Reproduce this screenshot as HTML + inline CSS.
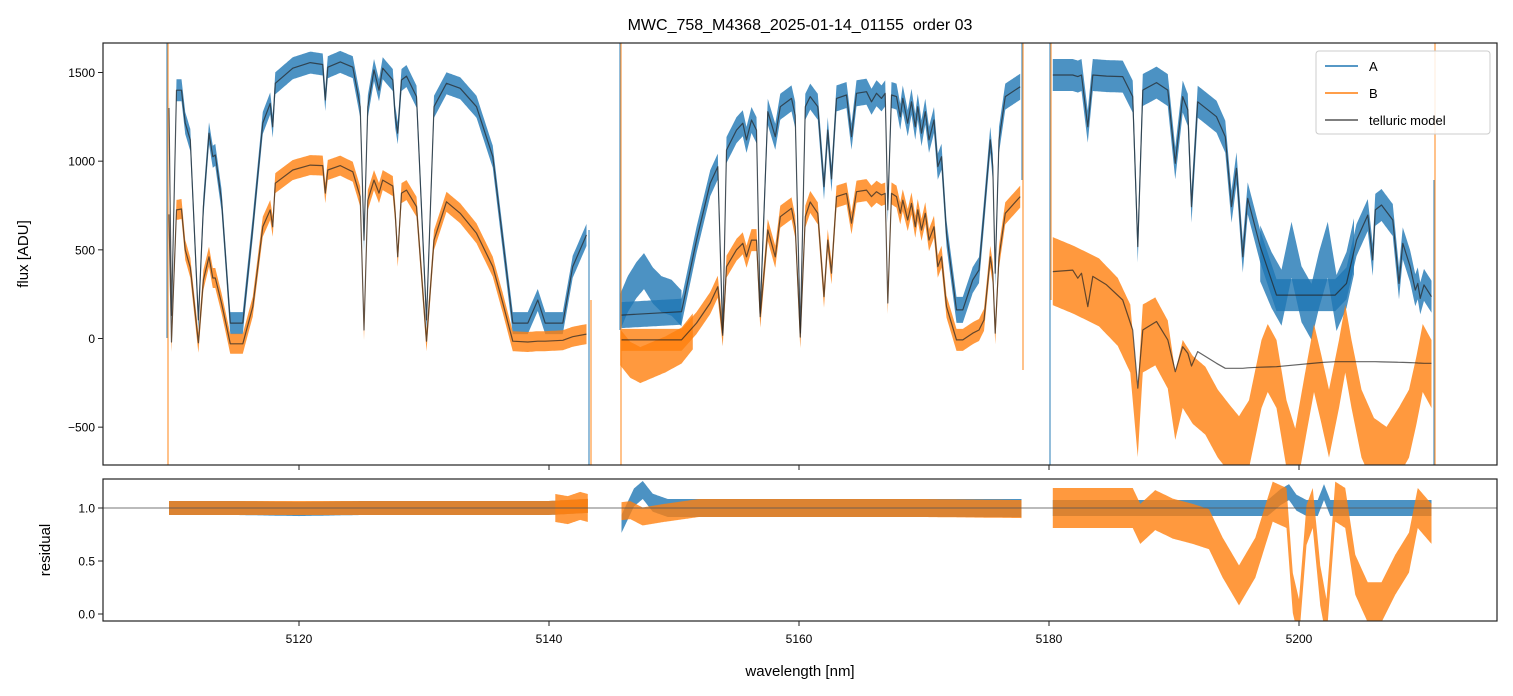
<!DOCTYPE html>
<html><head><meta charset="utf-8"><style>
body{margin:0;background:#fff;}
svg{display:block;font-family:"Liberation Sans","DejaVu Sans",sans-serif;}
</style></head><body>
<svg id="fig" width="1513" height="696" viewBox="0 0 1513 696" xmlns="http://www.w3.org/2000/svg">
<defs>
<clipPath id="cTop"><rect x="103" y="43" width="1394" height="422"/></clipPath>
<clipPath id="cBot"><rect x="103" y="479" width="1394" height="142"/></clipPath>
</defs>
<rect width="1513" height="696" fill="#fff"/>
<text x="800" y="30" text-anchor="middle" font-size="16" fill="#000" style="white-space:pre">MWC_758_M4368_2025-01-14_01155  order 03</text>
<g id="gtop" clip-path="url(#cTop)"></g>
<g id="gbot" clip-path="url(#cBot)"></g>
<g id="gaxes"></g>
<text x="0" y="0" transform="translate(28,254) rotate(-90)" text-anchor="middle" font-size="15">flux [ADU]</text>
<text x="0" y="0" transform="translate(50,550) rotate(-90)" text-anchor="middle" font-size="15">residual</text>
<text x="800" y="676" text-anchor="middle" font-size="15">wavelength [nm]</text>
<g>
<rect x="1316" y="51" width="174" height="83" rx="3" fill="#fff" fill-opacity="0.85" stroke="#ccc"/>
<line x1="1325" y1="66" x2="1358" y2="66" stroke="#1f77b4" stroke-width="1.5"/>
<text x="1369" y="71" font-size="13">A</text>
<line x1="1325" y1="93" x2="1358" y2="93" stroke="#ff7f0e" stroke-width="1.5"/>
<text x="1369" y="98" font-size="13">B</text>
<line x1="1325" y1="120" x2="1358" y2="120" stroke="#555" stroke-width="1.5"/>
<text x="1369" y="125" font-size="13">telluric model</text>
</g>
</svg>
<script>
const wl1=[5109.6,5109.8,5110.2,5110.6,5110.9,5111.3,5111.95,5112.35,5112.8,5113.1,5113.3,5113.8,5114.5,5115.5,5116.3,5117.1,5117.7,5117.9,5118.1,5119.5,5120.9,5121.9,5122.1,5122.3,5123.3,5124.3,5124.9,5125.2,5125.5,5126.0,5126.4,5126.7,5127.5,5127.7,5127.9,5128.2,5128.6,5129.4,5130.2,5130.8,5131.8,5132.9,5134.2,5135.5,5136.3,5137.1,5138.3,5139.1,5139.7,5141.1,5141.9,5143.0];
const modelA1=[1300,130,1400,1400,1215,1120,105,743,1158,1025,1035,781,87,87,630,1215,1326,1194,1439,1524,1556,1545,1345,1530,1560,1530,1307,555,1307,1514,1400,1524,1458,1250,1158,1458,1480,1364,105,1307,1439,1411,1307,1025,555,87,87,217,87,87,405,584];
const modelB1=[700,-20,725,730,500,400,-24,330,461,341,341,200,-30,-30,180,630,725,630,876,950,978,975,820,950,975,940,800,48,780,893,820,893,860,706,461,820,837,743,-15,555,771,706,593,405,200,-15,-20,-15,-15,-10,10,25];
const wl2=[5145.8,5150.6,5151.8,5152.9,5153.5,5153.9,5154.2,5155.0,5155.5,5155.8,5156.2,5156.6,5156.9,5157.5,5158.1,5158.5,5159.4,5159.7,5160.1,5160.5,5160.9,5161.5,5162.0,5162.3,5162.6,5163.0,5163.8,5164.2,5164.6,5165.4,5165.8,5166.2,5166.6,5166.9,5167.1,5167.4,5167.8,5168.1,5168.3,5168.7,5169.0,5169.3,5169.5,5169.8,5170.1,5170.4,5170.8,5171.1,5171.4,5171.8,5172.6,5173.1,5173.9,5174.4,5174.8,5175.3,5175.5,5175.7,5176.0,5176.5,5177.7];
const modelA2=[132,151,555,876,969,31,1063,1175,1214,1120,1232,1175,143,1279,1138,1307,1354,1260,31,1307,1364,1307,856,1175,900,1354,1373,1138,1383,1392,1335,1383,1354,1383,725,1373,1364,1250,1354,1214,1335,1194,1307,1158,1279,1120,1232,969,1025,593,161,161,330,386,706,1120,969,368,1120,1364,1420];
const modelB2=[-8,-8,87,200,292,18,405,500,537,461,555,555,123,612,461,687,734,630,8,687,770,706,236,555,368,800,818,650,828,837,800,828,809,818,200,818,800,706,780,668,762,630,725,612,706,555,630,405,461,180,-8,-8,30,48,105,461,368,30,461,706,800];
const obsA2wl=[5145.7,5146.3,5147.0,5147.6,5148.3,5149.0,5149.8,5150.6];
const obsA2=[150,250,330,380,300,250,230,170];
const obsB2wl=[5145.7,5146.5,5147.3,5148.3,5149.3,5150.6,5151.5];
const obsB2=[-50,-120,-150,-120,-90,-40,40];
const wl3=[5180.3,5181.9,5182.3,5182.6,5183.1,5183.5,5184.6,5185.9,5186.7,5187.1,5187.5,5188.6,5189.5,5190.1,5190.7,5191.1,5191.4,5191.9,5193.4,5194.1,5194.6,5195.0,5195.5,5195.9,5196.9,5198.2,5201.9,5202.9,5203.8,5204.6,5205.5,5205.9,5206.1,5206.6,5207.5,5208.0,5208.3,5208.9,5209.3,5209.5,5209.7,5210.0,5210.6];
const modelA3=[1486,1486,1477,1486,1194,1486,1480,1477,1364,518,1401,1443,1401,988,1364,1289,743,1335,1251,1138,743,960,461,790,518,245,245,245,311,555,696,443,725,753,668,311,537,405,273,311,226,302,236];
const modelB3=[377,386,340,368,180,350,303,217,48,-280,48,96,-8,-187,-46,-83,-155,-74,-140,-168,-168,-168,-168,-165,-162,-159,-135,-131,-131,-131,-131,-131,-131,-132,-133,-134,-135,-136,-137,-138,-139,-140,-140];
const obsA3wl=[5196.9,5197.8,5198.6,5199.4,5200.2,5201,5201.6,5202.3,5203,5203.8,5204.4];
const obsA3=[480,330,230,500,250,150,330,500,200,330,520];
const obsB3wl=[5180.3,5182,5184,5185.5,5186.5,5187.1,5187.5,5188.5,5189.5,5190.1,5190.7,5191.5,5192.5,5193.5,5194.5,5195.2,5196,5197,5197.5,5198.2,5199,5199.7,5200.5,5201.2,5201.8,5202.4,5203.2,5203.7,5204.2,5205,5206,5207,5208,5208.8,5209.4,5209.9,5210.6];
const obsB3=[380,330,260,150,0,-477,0,40,-90,-380,-200,-290,-350,-480,-570,-630,-540,-200,-110,-200,-540,-700,-380,-110,-290,-480,-200,0,-200,-480,-640,-690,-580,-480,-290,-110,-200];
const resA1wl=[5109.6,5112,5115,5120,5125,5130,5135,5140,5143.1];
const resA1=[1.0,1.0,1.0,0.99,1.0,1.0,1.0,1.0,1.02];
const resB1wl=[5109.6,5115,5120,5125,5130,5135,5140,5143.1];
const resB1=[1.0,1.0,1.0,1.0,1.0,1.0,1.0,1.02];
const resA2wl=[5145.8,5146.2,5146.8,5147.5,5148.3,5149.5,5152,5160,5170,5177.8];
const resA2=[0.85,0.95,1.1,1.17,1.05,1.0,1.0,1.0,1.0,1.0];
const resB2wl=[5145.8,5146.5,5147.5,5149,5152,5160,5170,5177.8];
const resB2=[0.97,0.98,0.92,0.95,1.0,1.0,1.0,0.99];
const resA3wl=[5180.3,5197.5,5198.5,5199.2,5199.8,5200.6,5201.5,5202.0,5202.5,5210.6];
const resA3=[1.0,1.0,1.1,1.15,1.05,1.0,1.0,1.15,1.0,1.0];
const resB3wl=[5180.3,5186.7,5187.3,5188.5,5189.9,5191.5,5192.8,5193.9,5195.2,5196.5,5197.9,5199.0,5199.5,5200.0,5200.6,5201.1,5201.7,5202.2,5202.9,5203.7,5204.5,5205.5,5206.6,5207.7,5208.8,5209.5,5210.6];
const resB3=[1.0,1.0,0.85,0.98,0.9,0.85,0.8,0.53,0.27,0.53,1.06,1.0,0.2,-0.05,0.84,1.0,0.27,-0.05,1.06,1.0,0.37,0.11,0.11,0.37,0.58,1.0,0.85];
const xTicks=[5120,5140,5160,5180,5200];
const yTicks=[-500,0,500,1000,1500];
const rTicks=[0.0,0.5,1.0];
const rTickLabels=["0.0","0.5","1.0"];
{
const X=w=>299+(w-5120)*12.5;
const Y=v=>338.5-v*0.17733;
const R=v=>508-(v-1)*106;
const NS="http://www.w3.org/2000/svg";
const gTop=document.getElementById('gtop'),gBot=document.getElementById('gbot'),gAx=document.getElementById('gaxes');
function mk(tag,attrs,parent){const e=document.createElementNS(NS,tag);for(const k in attrs)e.setAttribute(k,attrs[k]);parent.appendChild(e);return e;}
function line(xs,ys,sc,col,w,op,parent,name){
  const pts=xs.map((x,i)=>X(x).toFixed(1)+','+sc(ys[i]).toFixed(1)).join(' ');
  const p=mk('polyline',{points:pts,fill:'none',stroke:col,'stroke-width':w,'stroke-opacity':op,'stroke-linejoin':'round'},parent);
  
  
  return p;
}
function band(xs,ys,sc,h,col,op,parent,name){
  const px=xs.map(X),py=ys.map(sc);
  const sx=[];
  for(let x=Math.ceil(px[0]);x<px[px.length-1];x+=1)sx.push(x);
  px.forEach(x=>sx.push(x));
  sx.sort((a,b)=>a-b);
  const up=[],dn=[];
  let j=0;
  sx.forEach(x=>{
    while(j<px.length-2&&px[j+1]<x)j++;
    const t=(px[j+1]===px[j])?0:Math.max(0,Math.min(1,(x-px[j])/(px[j+1]-px[j])));
    const y=py[j]+(py[j+1]-py[j])*t;
    up.push(x.toFixed(1)+','+(y-h).toFixed(1));
    dn.push(x.toFixed(1)+','+(y+h).toFixed(1));
  });
  const p=mk('polygon',{points:up.concat(dn.reverse()).join(' '),fill:col,'fill-opacity':op},parent);
  
  
  return p;
}
const BL='#1f77b4',OR='#ff7f0e';
band(wl1,modelA1,Y,11,BL,0.8,gTop,'series-a-chip1');
band(wl2,modelA2,Y,13,BL,0.8,gTop,'series-a-chip2');
band(obsA2wl,obsA2,Y,18,BL,0.8,gTop,'series-a-chip2-edge');
band(wl3,modelA3,Y,16,BL,0.8,gTop,'series-a-chip3');
band(obsA3wl,obsA3,Y,28,BL,0.8,gTop,'series-a-chip3-excess');
band(wl1,modelB1,Y,10,OR,0.8,gTop,'series-b-chip1');
band(wl2,modelB2,Y,11,OR,0.8,gTop,'series-b-chip2');
band(obsB2wl,obsB2,Y,18,OR,0.8,gTop,'series-b-chip2-edge');
band(obsB3wl,obsB3,Y,34,OR,0.8,gTop,'series-b-chip3');
[[167,BL,43,338],[168,OR,43,465],[589,BL,230,465],[591,OR,300,465],[620,BL,43,330],[621,OR,43,465],[1022,BL,43,180],[1023,OR,43,370],[1050,BL,43,465],[1051,OR,43,300],[1434,BL,180,465],[1435,OR,43,465]].forEach(s=>{
  const l=mk('line',{x1:s[0],x2:s[0],y1:s[2],y2:s[3],stroke:s[1],'stroke-width':1.2,'stroke-opacity':0.8},gTop);
  
  
});
[[wl1,modelA1],[wl1,modelB1],[wl2,modelA2],[wl2,modelB2],[wl3,modelA3],[wl3,modelB3]].forEach(d=>{
  line(d[0],d[1],Y,'#222',1.2,0.7,gTop,'telluric-model');
});
band(resA1wl,resA1,R,7,BL,0.8,gBot,'residual-a-chip1');
band(resA2wl,resA2,R,9,BL,0.8,gBot,'residual-a-chip2');
band(resA3wl,resA3,R,8,BL,0.8,gBot,'residual-a-chip3');
band(resB1wl,resB1,R,7,OR,0.8,gBot,'residual-b-chip1');
band([5140.5,5141.5,5142.5,5143.1],[1.0,0.98,1.02,1.0],R,14,OR,0.8,gBot,'residual-b-chip1-edge');
band(resB2wl,resB2,R,9,OR,0.8,gBot,'residual-b-chip2');
band(resB3wl,resB3,R,20,OR,0.8,gBot,'residual-b-chip3');
const ref=mk('line',{x1:103,x2:1497,y1:R(1),y2:R(1),stroke:'#555','stroke-width':1,'stroke-opacity':0.8},gBot);


[[103,43,1394,422,'flux-axes-frame'],[103,479,1394,142,'residual-axes-frame']].forEach(r=>{
  const f=mk('rect',{x:r[0],y:r[1],width:r[2],height:r[3],fill:'none',stroke:'#222','stroke-width':1.2},gAx);
  
  
});
xTicks.forEach(t=>{
  const x=X(t);
  mk('line',{x1:x,x2:x,y1:465,y2:470,stroke:'#222','stroke-width':1},gAx);
  mk('line',{x1:x,x2:x,y1:621,y2:626,stroke:'#222','stroke-width':1},gAx);
  const tx=mk('text',{x:x,y:643,'text-anchor':'middle','font-size':12},gAx);
  tx.textContent=t;
  
  
});
yTicks.forEach(t=>{
  const y=Y(t);
  mk('line',{x1:98,x2:103,y1:y,y2:y,stroke:'#222','stroke-width':1},gAx);
  const tx=mk('text',{x:95,y:y+4.5,'text-anchor':'end','font-size':12},gAx);
  tx.textContent=t<0?'\u2212'+Math.abs(t):String(t);
  
  
});
rTicks.forEach((t,i)=>{
  const y=R(t);
  mk('line',{x1:98,x2:103,y1:y,y2:y,stroke:'#222','stroke-width':1},gAx);
  const tx=mk('text',{x:95,y:y+4.5,'text-anchor':'end','font-size':12},gAx);
  tx.textContent=rTickLabels[i];
  
  
});
}
</script>
</body></html>
